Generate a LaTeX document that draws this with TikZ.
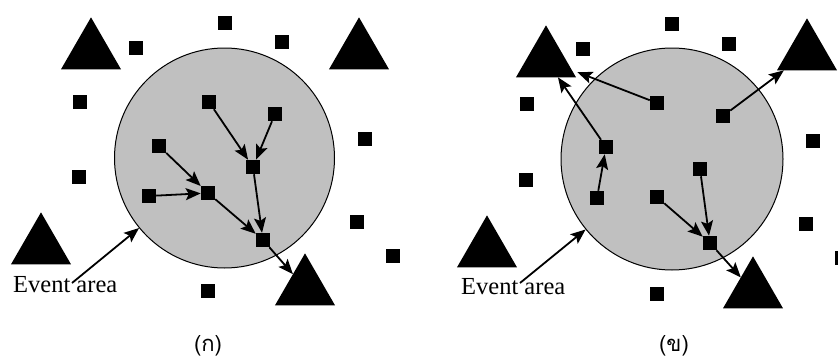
\documentclass[tikz,border=0pt]{standalone}
\usepackage{fontspec}
\setmainfont{Liberation Serif}
\newfontfamily\thaifont[Script=Thai]{Loma}
\usetikzlibrary{shapes.geometric,arrows.meta}
\definecolor{areagray}{RGB}{192,192,192}
\tikzset{
  sensor/.style={fill=black,draw=none,minimum size=14.5pt,inner sep=0pt,outer sep=0pt},
  sink/.style={regular polygon,regular polygon sides=3,fill=black,draw=none,minimum size=69.3pt,inner sep=0pt,outer sep=0pt},
  area/.style={circle,fill=areagray,draw=black,line width=1pt,inner sep=0pt},
  hop/.style={line width=1.8pt,-{Stealth[length=15pt,width=12pt,inset=3pt]}},
  lbl/.style={font=\fontsize{24.5}{26}\selectfont,inner sep=0pt,anchor=base west},
  subcap/.style={font=\thaifont\fontsize{22}{24}\selectfont,inner sep=0pt,anchor=base}
}
\begin{document}
\begin{tikzpicture}[x=1pt,y=-1pt]
\useasboundingbox (0,0) rectangle (838,362);

% ---------- left panel ----------
\node[area,minimum size=220pt] (C1) at (224.5,158) {};
\node[sink] (LT1) at (91,52) {};
\node[sink] (LT2) at (359,52) {};
\node[sink] (LT3) at (41,247) {};
\node[sink] (LT4) at (305,288) {};
\foreach \p [count=\i] in {(136,48),(225,23),(282,42),(80,102),(79,177),(365,139),(357,222),(393,256),(208,291)}
  \node[sensor] (Lo\i) at \p {};
\node[sensor] (LA) at (209,102) {};
\node[sensor] (LB) at (275,114) {};
\node[sensor] (LC) at (159,146) {};
\node[sensor] (LD) at (253,167) {};
\node[sensor] (LE) at (149,196) {};
\node[sensor] (LF) at (208,193) {};
\node[sensor] (LG) at (263,240) {};
\draw[hop] (LA) -- (LD);
\draw[hop] (LB) -- (LD);
\draw[hop] (LC) -- (LF);
\draw[hop] (LE) -- (LF);
\draw[hop] (LF) -- (LG);
\draw[hop] (LD) -- (LG);
\draw[hop] (LG) -- (LT4);
\node[lbl] (ev1) at (13,292) {Event area};
\coordinate (ev1s) at (72,283);
\draw[hop] (ev1s) -- (C1);
\node[subcap] (cap1) at (208,351) {(ก)};

% ---------- right panel ----------
\node[area,minimum size=222pt] (C2) at (672,159) {};
\node[sink] (RT1) at (546,60) {};
\node[sink] (RT2) at (807,53) {};
\node[sink] (RT3) at (487,250) {};
\node[sink] (RT4) at (753,291) {};
\foreach \p [count=\i] in {(672,24),(729,44),(583,49),(527,104),(526,180),(813,141),(806,224),(842,258),(657,294)}
  \node[sensor] (Ro\i) at \p {};
\node[sensor] (RP) at (657,103) {};
\node[sensor] (RQ) at (723,116) {};
\node[sensor] (RR) at (606,147) {};
\node[sensor] (RS) at (597,198) {};
\node[sensor] (RU) at (700,169) {};
\node[sensor] (RV) at (657,197) {};
\node[sensor] (RW) at (710,243) {};
\draw[hop] (RS) -- (RR);
\draw[hop] (RR) -- (RT1);
\draw[hop,shorten >=6pt] (RP) -- (RT1);
\draw[hop] (RQ) -- (RT2);
\draw[hop] (RU) -- (RW);
\draw[hop] (RV) -- (RW);
\draw[hop] (RW) -- (RT4);
\node[lbl] (ev2) at (461,294) {Event area};
\coordinate (ev2s) at (520,283);
\draw[hop] (ev2s) -- (C2);
\node[subcap] (cap2) at (674,351) {(ข)};
\end{tikzpicture}
\end{document}
